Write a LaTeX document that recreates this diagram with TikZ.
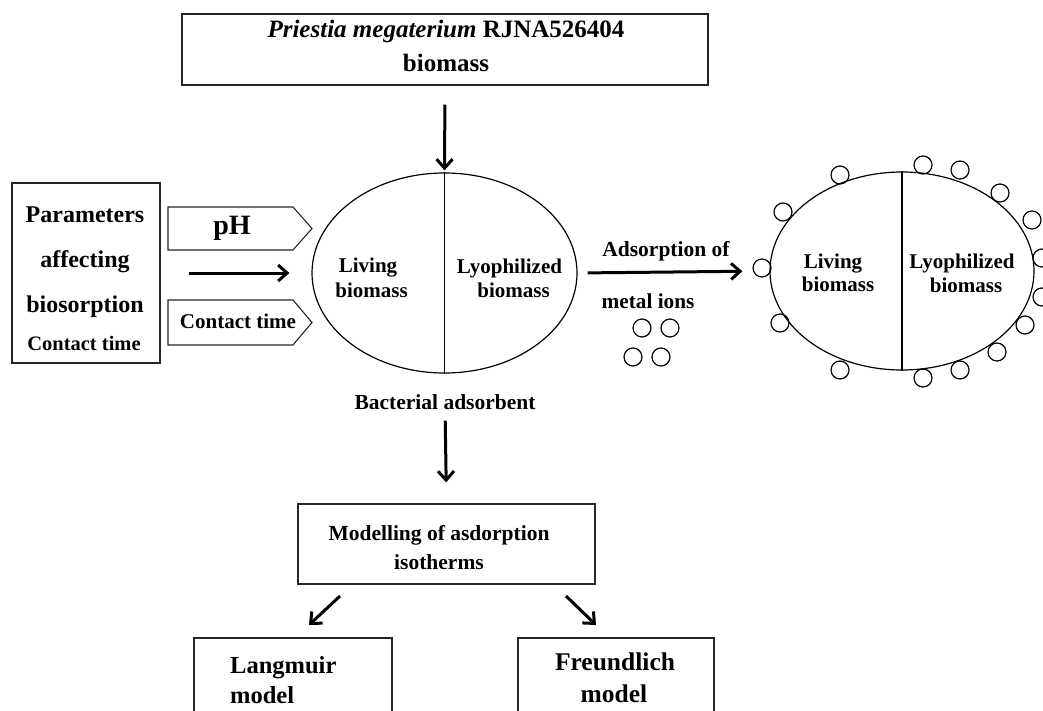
\documentclass[tikz,border=0pt]{standalone}
\usepackage{fontspec}
\setmainfont{Liberation Serif}
\usetikzlibrary{shapes.geometric,arrows.meta}
\tikzset{
  box/.style={draw=black!85, line width=1.3pt, inner sep=0pt, fill=none},
  lbl/.style={anchor=base, inner sep=0pt, font=\bfseries},
  arr/.style={line width=3pt, -{Straight Barb[length=9pt,width=16pt,line width=3pt]}},
  oval/.style={draw, ellipse, line width=1.2pt, inner sep=0pt},
  ion/.style={draw, circle, line width=1.2pt, minimum size=18pt, inner sep=0pt},
  sig/.style={draw=black!85, line width=1.1pt, line join=miter},
}
\newcommand{\fs}[1]{\fontsize{#1}{#1}\selectfont}
\begin{document}
\begin{tikzpicture}[x=1pt,y=-1pt]
\useasboundingbox (0,0) rectangle (1043,711);
\clip (0,0) rectangle (1043,711);
\fill[white] (0,0) rectangle (1043,711);

% top box
\node[box, minimum width=526pt, minimum height=71pt] (top) at (445,49.5) {};
\node[lbl, font=\bfseries\fs{25}] (t1) at (446,38) {\textit{Priestia megaterium} RJNA526404};
\node[lbl, font=\bfseries\fs{25}] (t2) at (446,72) {biomass};

% left box
\node[box, minimum width=148pt, minimum height=180pt] (params) at (86,273) {};
\node[lbl, font=\bfseries\fs{24}] (p1) at (85,223) {Parameters};
\node[lbl, font=\bfseries\fs{24}] (p2) at (85,267) {affecting};
\node[lbl, font=\bfseries\fs{24}] (p3) at (85,312) {biosorption};
\node[lbl, font=\bfseries\fs{20.5}] (p4) at (84,350) {Contact time};

% signal shapes
\draw[sig] (168,207) -- (293,207) -- (312,228.5) -- (293,250) -- (168,250) -- cycle;
\node[lbl, font=\bfseries\fs{28}] (ph) at (232,235) {pH};
\draw[sig] (168,300) -- (293,300) -- (312,322.5) -- (293,345) -- (168,345) -- cycle;
\node[lbl, font=\bfseries\fs{21}] (ct) at (238,328) {Contact time};

% ellipse 1
\node[oval, minimum width=265pt, minimum height=200pt] (e1) at (444.5,273) {};
\draw[line width=1.1pt] (e1.north) -- (e1.south);
\node[lbl, font=\bfseries\fs{21}] (l1) at (368,272) {Living};
\node[lbl, font=\bfseries\fs{21}] (l2) at (371.5,297) {biomass};
\node[lbl, font=\bfseries\fs{21}] (y1) at (509.5,273) {Lyophilized};
\node[lbl, font=\bfseries\fs{21}] (y2) at (513.5,297) {biomass};
\node[lbl, font=\bfseries\fs{21.5}] (bact) at (445,409) {Bacterial adsorbent};

% ellipse 2
\node[oval, minimum width=264pt, minimum height=198pt] (e2) at (902,271) {};
\draw[line width=1.1pt] (e2.north) -- (e2.south);
\node[lbl, font=\bfseries\fs{21}] (m1) at (833,268) {Living};
\node[lbl, font=\bfseries\fs{21}] (m2) at (838,291) {biomass};
\node[lbl, font=\bfseries\fs{21}] (z1) at (962,268) {Lyophilized};
\node[lbl, font=\bfseries\fs{21}] (z2) at (966,292) {biomass};

% adsorption label
\node[lbl, font=\bfseries\fs{21.5}] (ad1) at (666,257) {Adsorption of};
\node[lbl, font=\bfseries\fs{21.3}] (ad2) at (648,308) {metal ions};
\node[ion] (i1) at (642,328) {};
\node[ion] (i2) at (670,328) {};
\node[ion] (i3) at (633,357) {};
\node[ion] (i4) at (661,357) {};

% ions on ellipse 2
\foreach \p [count=\k] in {(840,175),(783,212),(762,268),(780,323),(840,370),(923,378),(960,370),(997,352),(1025,325),(1042,297),(1042,258),(1032,220),(1000,193),(960,170),(923,165)}
  \node[ion] (s\k) at \p {};

% modelling
\node[box, minimum width=297pt, minimum height=80pt] (model) at (446.5,544) {};
\node[lbl, font=\bfseries\fs{21.5}] (mo1) at (439,540) {Modelling of asdorption};
\node[lbl, font=\bfseries\fs{21.5}] (mo2) at (439,569) {isotherms};

% bottom boxes
\node[box, minimum width=198pt, minimum height=120pt] (lang) at (293,698) {};
\node[lbl, anchor=base west, font=\bfseries\fs{24.5}] (la1) at (230,673) {Langmuir};
\node[lbl, anchor=base west, font=\bfseries\fs{24.5}] (la2) at (230,703) {model};
\node[box, minimum width=196pt, minimum height=120pt] (freu) at (616,698) {};
\node[lbl, font=\bfseries\fs{25.5}] (fr1) at (615,670) {Freundlich};
\node[lbl, font=\bfseries\fs{25.5}] (fr2) at (614,702) {model};

% connectors
\draw[arr, shorten <=19pt, shorten >=2pt] (top.south) -- (e1.north);
\draw[arr, shorten <=47pt, shorten >=21pt] (e1.south) -- (model.north);
\draw[arr, shorten <=28pt, shorten >=22pt] (params.east) -- (e1.west);
\draw[arr, shorten <=10pt, shorten >=27pt] (e1.east) -- (e2.west);
\coordinate (ml) at (340,596);
\coordinate (lt) at (309,625);
\coordinate (mr) at (566,596);
\coordinate (ft) at (596,625);
\draw[arr] (ml) -- (lt);
\draw[arr] (mr) -- (ft);
\end{tikzpicture}
\end{document}
